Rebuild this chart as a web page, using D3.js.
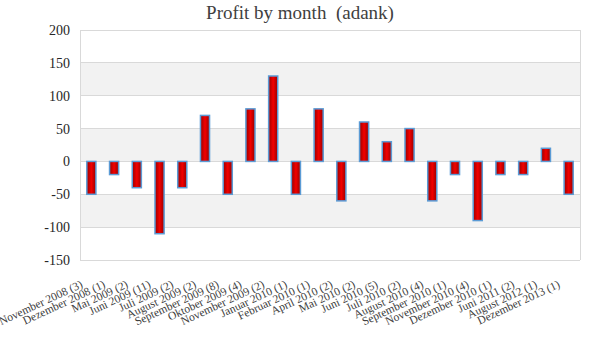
<!DOCTYPE html>
<html><head><meta charset="utf-8">
<script src="https://cdn.jsdelivr.net/npm/d3@7"></script>
<style>body{margin:0;background:#fff}</style>
</head><body>
<svg id="c" width="600" height="360"></svg>
<script>
const categories = ["November 2008 (3)","Dezember 2008 (1)","Mai 2009 (2)","Juni 2009 (11)","Juli 2009 (2)","August 2009 (2)","September 2009 (8)","Oktober 2009 (4)","November 2009 (2)","Januar 2010 (1)","Februar 2010 (1)","April 2010 (2)","Mai 2010 (2)","Juni 2010 (5)","Juli 2010 (2)","August 2010 (4)","September 2010 (1)","November 2010 (4)","Dezember 2010 (1)","Juni 2011 (2)","August 2012 (1)","Dezember 2013 (1)"];
const profit = [-50,-20,-40,-110,-40,70,-50,80,130,-50,80,-60,60,30,50,-60,-20,-90,-20,-20,20,-50];
const yTicks = [-150,-100,-50,0,50,100,150,200];
const title = "Profit by month  (adank)";

const font = "'Liberation Serif', 'DejaVu Serif', serif";
const svg = d3.select("#c");
const m = {l:80, r:20, t:30, b:100};
const W = 600, H = 360;
const x = d3.scaleBand().domain(categories).range([m.l, W - m.r]).paddingInner(0.6).paddingOuter(0.3);
const y = d3.scaleLinear().domain([-150, 200]).range([H - m.b, m.t]);

const defs = svg.append("defs");
const g = defs.append("linearGradient").attr("id","bg").attr("x1","0").attr("x2","1").attr("y1","0").attr("y2","0");
g.append("stop").attr("offset","0").attr("stop-color","#9a0000");
g.append("stop").attr("offset","0.5").attr("stop-color","#f20000");
g.append("stop").attr("offset","1").attr("stop-color","#9a0000");

// bands
for (let i = 0; i < yTicks.length - 1; i++) {
  const lo = yTicks[i], hi = yTicks[i+1];
  if (i % 2 === 1) {
    svg.append("rect").attr("x", m.l).attr("width", W - m.r - m.l)
      .attr("y", y(hi)).attr("height", y(lo) - y(hi)).attr("fill", "#f2f2f2");
  }
}
// grid
svg.append("g").selectAll("line").data(yTicks).join("line")
  .attr("x1", m.l).attr("x2", W - m.r)
  .attr("y1", d => y(d)).attr("y2", d => y(d))
  .attr("stroke", "#d9d9d9").attr("stroke-width", 1).attr("shape-rendering","crispEdges");
svg.append("line").attr("x1", m.l).attr("x2", m.l).attr("y1", y(200)).attr("y2", y(-150))
  .attr("stroke","#d9d9d9").attr("shape-rendering","crispEdges");
svg.append("line").attr("x1", W - m.r).attr("x2", W - m.r).attr("y1", y(200)).attr("y2", y(-150))
  .attr("stroke","#d9d9d9").attr("shape-rendering","crispEdges");

// y axis
const ya = svg.append("g").attr("transform", `translate(${m.l},0)`)
  .call(d3.axisLeft(y).tickValues(yTicks).tickFormat(d => String(d)).tickSize(0).tickPadding(10));
ya.select(".domain").remove();
ya.selectAll("text").attr("font-family", font).attr("font-size", 14).attr("fill", "#262626");

// x axis labels
const xa = svg.append("g").attr("transform", `translate(0,${H - m.b})`)
  .call(d3.axisBottom(x).tickSize(0).tickPadding(0));
xa.select(".domain").remove();
xa.selectAll("text").attr("font-family", font).attr("font-size", 11.5).attr("fill", "#404040")
  .attr("text-anchor", "end").attr("dy", null).attr("y", 0)
  .attr("transform", "translate(-8,27) rotate(-25)");

// bars
svg.append("g").selectAll("rect").data(profit).join("rect")
  .attr("x", (d,i) => x(categories[i]))
  .attr("width", x.bandwidth())
  .attr("y", d => y(Math.max(0, d)))
  .attr("height", d => Math.abs(y(d) - y(0)))
  .attr("fill", "url(#bg)")
  .attr("stroke", "#5b9bd5").attr("stroke-width", 1.5);

svg.append("text").attr("x", 300).attr("y", 19).attr("text-anchor","middle")
  .style("white-space","pre")
  .attr("font-family", font).attr("font-size", 19).attr("fill", "#404040").text(title);
</script>
</body></html>
